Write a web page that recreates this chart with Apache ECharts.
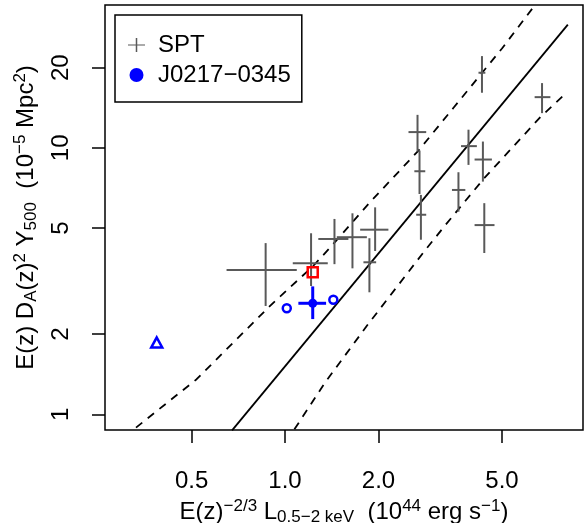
<!DOCTYPE html>
<html>
<head>
<meta charset="utf-8">
<script src="https://cdn.jsdelivr.net/npm/echarts@6/dist/echarts.min.js"></script>
<style>
html, body { margin: 0; padding: 0; background: #fff; }
#chart { width: 585px; height: 523px; }
</style>
</head>
<body>
<div id="chart"></div>
<script>
// SPT clusters: centre and error bar ends
var sptX   = [0.866, 1.213, 1.443, 1.649, 1.951, 1.870, 2.672, 2.712, 2.740, 4.310, 6.730, 3.900, 4.340, 3.620, 4.385];
var sptXLo = [0.648, 1.059, 1.280, 1.468, 1.746, 1.789, 2.499, 2.610, 2.646, 4.200, 6.370, 3.690, 4.080, 3.450, 4.080];
var sptXHi = [1.091, 1.373, 1.600, 1.835, 2.153, 1.966, 2.850, 2.830, 2.850, 4.420, 7.160, 4.150, 4.640, 3.810, 4.730];
var sptY   = [3.48, 3.69, 4.55, 4.62, 4.93, 3.72, 11.46, 8.17, 5.61, 19.14, 15.5, 10.15, 9.04, 6.95, 5.13];
var sptYLo = [2.55, 3.03, 3.66, 3.53, 4.10, 2.87, 9.69, 6.71, 4.52, 16.1, 13.5, 8.63, 7.47, 5.76, 4.03];
var sptYHi = [4.39, 4.78, 5.41, 5.68, 5.98, 4.58, 13.3, 9.77, 6.66, 22.1, 17.5, 11.7, 10.56, 8.10, 6.20];

// J0217-0345 and its variants
var jX = [1.228], jXLo = [1.104], jXHi = [1.356];
var jY = [2.61],  jYLo = [2.277], jYHi = [3.02];
var openX = [1.013, 1.431];
var openY = [2.50, 2.69];
var triX = [0.386], triY = [1.86];
var sqX = [1.228], sqY = [3.41];

// fit and band
var fitX = [0.675, 8.15];
var fitY = [0.87, 29.0];
var upperX = [0.331, 0.519, 0.895, 1.234, 1.414, 1.857, 2.692, 3.49, 5.00, 6.32];
var upperY = [0.891, 1.354, 2.554, 3.61, 4.29, 6.16, 9.77, 14.14, 23.6, 33.8];
var lowerX = [1.072, 1.346, 1.835, 2.794, 3.24, 4.363, 6.645, 8.104];
var lowerY = [0.878, 1.316, 2.148, 4.054, 5.03, 7.65, 13.04, 16.2];

// axes
var xTicks = [0.5, 1, 2, 5];
var xTickLabels = ['0.5', '1.0', '2.0', '5.0'];
var yTicks = [1, 2, 5, 10, 20];
var yTickLabels = ['1', '2', '5', '10', '20'];

var FONT = 'Liberation Sans';
var GREY = '#595959';
var BLUE = '#0000ff';

var zip = function (xs, ys) {
    return xs.map(function (x, i) { return [x, ys[i]]; });
};

var pickLabel = function (ticks, labels) {
    return function (value) {
        for (var i = 0; i < ticks.length; i++) {
            if (Math.abs(ticks[i] - value) < ticks[i] * 1e-3) return labels[i];
        }
        return '';
    };
};

var crossItem = function (color, width) {
    return function (params, api) {
        var x = api.value(0), y = api.value(1);
        var a = api.coord([api.value(2), y]);
        var b = api.coord([api.value(3), y]);
        var c = api.coord([x, api.value(4)]);
        var d = api.coord([x, api.value(5)]);
        var st = { stroke: color, lineWidth: width };
        return {
            type: 'group',
            children: [
                { type: 'line', shape: { x1: a[0], y1: a[1], x2: b[0], y2: b[1] }, style: st },
                { type: 'line', shape: { x1: c[0], y1: c[1], x2: d[0], y2: d[1] }, style: st }
            ]
        };
    };
};

var sptRows = sptX.map(function (x, i) {
    return [x, sptY[i], sptXLo[i], sptXHi[i], sptYLo[i], sptYHi[i]];
});
var jRows = jX.map(function (x, i) {
    return [x, jY[i], jXLo[i], jXHi[i], jYLo[i], jYHi[i]];
});

var rich = {
    n:   { fontSize: 24, lineHeight: 24, fontFamily: FONT, color: '#000', verticalAlign: 'bottom', padding: [0, 0, 3, 0] },
    sup: { fontSize: 17, lineHeight: 17, fontFamily: FONT, color: '#000', verticalAlign: 'bottom', padding: [0, 0, 12, 0] },
    sub: { fontSize: 17, lineHeight: 17, fontFamily: FONT, color: '#000', verticalAlign: 'bottom', padding: [0, 0, 1, 0] }
};

var hollow = function (color) {
    return { color: 'rgba(0,0,0,0)', borderColor: color, borderWidth: 2.5, opacity: 1 };
};

var chart = echarts.init(document.getElementById('chart'));

var dashed = { color: '#000', width: 1.8, type: [8, 7] };

chart.setOption({
    animation: false,
    textStyle: { fontFamily: FONT },
    grid: {
        left: 105, right: 2, top: 5, bottom: 93,
        outerBoundsMode: 'none',
        show: true, borderColor: '#000', borderWidth: 1.5
    },
    legend: {
        data: [
            { name: 'SPT', icon: 'path://M0,7.75H17V9.25H0Z M7.75,0H9.25V17H7.75Z' },
            { name: 'J0217\u22120345', icon: 'circle' }
        ],
        orient: 'vertical',
        left: 115, top: 15,
        itemWidth: 17, itemHeight: 14, itemGap: 6,
        symbolKeepAspect: false,
        padding: [18, 11, 15, 13],
        borderColor: '#000', borderWidth: 1.5,
        backgroundColor: '#fff',
        textStyle: { fontSize: 24, lineHeight: 24, color: '#000', fontFamily: FONT, padding: [0, 0, 0, 8] }
    },
    xAxis: {
        type: 'log', logBase: 10,
        min: 0.263, max: 9.12,
        axisLine: { show: false },
        splitLine: { show: false },
        axisTick: { customValues: xTicks, length: 13, lineStyle: { color: '#000', width: 1.5 } },
        axisLabel: {
            customValues: xTicks, margin: 39, fontSize: 24, color: '#000', fontFamily: FONT,
            formatter: pickLabel(xTicks, xTickLabels)
        },
        name: '{n|E(z)}{sup|\u22122/3}{n| L}{sub|0.5\u22122 keV}{n|  (10}{sup|44}{n| erg s}{sup|\u22121}{n|)}',
        nameLocation: 'middle',
        nameGap: 66,
        nameTextStyle: { rich: rich }
    },
    yAxis: {
        type: 'log', logBase: 10,
        min: 0.873, max: 34.37,
        axisLine: { show: false },
        splitLine: { show: false },
        axisTick: { customValues: yTicks, length: 13, lineStyle: { color: '#000', width: 1.5 } },
        axisLabel: {
            customValues: yTicks, margin: 32, rotate: 90, fontSize: 24, color: '#000', fontFamily: FONT,
            formatter: pickLabel(yTicks, yTickLabels)
        },
        name: '{n|E(z) D}{sub|A}{n|(z)}{sup|2}{n| Y}{sub|500}{n|  (10}{sup|\u22125}{n| Mpc}{sup|2}{n|)}',
        nameLocation: 'middle',
        nameRotate: 90,
        nameGap: 53,
        nameTextStyle: { rich: rich }
    },
    series: [
        {
            name: 'fit', type: 'line', data: zip(fitX, fitY),
            showSymbol: false, clip: true,
            lineStyle: { color: '#000', width: 1.8 }, z: 2
        },
        {
            name: 'upper', type: 'line', data: zip(upperX, upperY),
            showSymbol: false, clip: true, lineStyle: dashed, z: 2
        },
        {
            name: 'lower', type: 'line', data: zip(lowerX, lowerY),
            showSymbol: false, clip: true, lineStyle: dashed, z: 2
        },
        {
            name: 'SPT', type: 'custom', data: sptRows,
            itemStyle: { color: GREY },
            renderItem: crossItem(GREY, 2), z: 3
        },
        {
            name: 'J0217 err', type: 'custom', data: jRows,
            itemStyle: { color: BLUE },
            renderItem: crossItem(BLUE, 3), z: 4
        },
        {
            name: 'J0217\u22120345', type: 'scatter', data: zip(jX, jY),
            symbol: 'circle', symbolSize: 9,
            itemStyle: { color: BLUE, opacity: 1 }, z: 5
        },
        {
            name: 'alt', type: 'scatter', data: zip(openX, openY),
            symbol: 'circle', symbolSize: 8,
            itemStyle: hollow(BLUE), z: 5
        },
        {
            name: 'tri', type: 'scatter', data: zip(triX, triY),
            symbol: 'triangle', symbolSize: [11, 10],
            itemStyle: hollow(BLUE), z: 5
        },
        {
            name: 'sq', type: 'scatter', data: zip(sqX, sqY),
            symbol: 'rect', symbolSize: 10,
            itemStyle: hollow('#ff0000'), z: 5
        }
    ]
});
</script>
</body>
</html>
